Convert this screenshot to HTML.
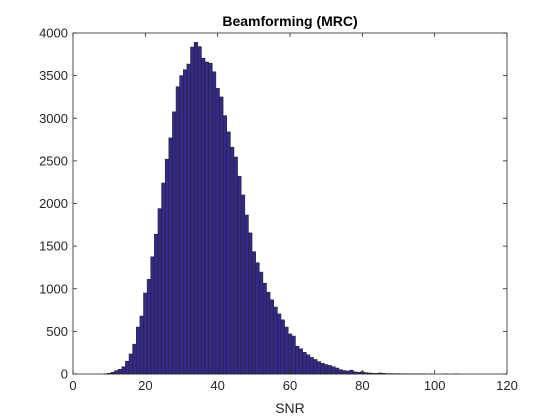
<!DOCTYPE html>
<html><head><meta charset="utf-8"><style>
html,body{margin:0;padding:0;background:#fff;}
svg{display:block;font-family:"Liberation Sans",Arial,sans-serif;}
</style></head><body>
<svg id="chart" width="560" height="420" viewBox="0 0 560 420"></svg>
<script>
const binStart = 8.5;
const binWidth = 1;
const counts = [3,8,20,40,55,85,150,235,350,550,680,950,1110,1375,1640,1940,2240,2520,2770,3075,3370,3500,3570,3635,3835,3890,3840,3705,3660,3645,3545,3350,3250,3030,2840,2660,2545,2320,2100,1865,1655,1435,1305,1195,1065,960,870,785,705,635,550,470,445,325,295,255,225,195,170,145,125,110,100,85,70,50,40,35,45,25,20,27,16,12,8,8,12,8,4,5,3,4,2,3,2,1,2,1,1,0,1,0,0,0,1,0,0,1];
const xTicks = [0,20,40,60,80,100,120];
const yTicks = [0,500,1000,1500,2000,2500,3000,3500,4000];
const L=73,R=507,T=33,B=374;
const xS=v=>L+(v-0)/120*(R-L);
const yS=v=>B-v/4000*(B-T);
const svg=document.getElementById('chart');
const NS='http://www.w3.org/2000/svg';
function mk(t,a,p){const e=document.createElementNS(NS,t);for(const k in a)e.setAttribute(k,a[k]);(p||svg).appendChild(e);return e;}
const bg=mk('rect',{x:L,y:T,width:R-L,height:B-T,fill:'#fff'});


const g=mk('g',{});


counts.forEach((c,i)=>{
  if(c<=0)return;
  const x0=xS(binStart+i*binWidth),x1=xS(binStart+(i+1)*binWidth);
  const r=mk('rect',{x:x0,y:yS(c),width:x1-x0,height:B-yS(c),fill:'#33298a',stroke:'#262626','stroke-width':0.6},g);
  
  
});
const ax=mk('g',{});


mk('rect',{x:L,y:T,width:R-L,height:B-T,fill:'none',stroke:'#262626','stroke-width':0.8},ax);
xTicks.forEach(v=>{
  const x=xS(v);
  mk('line',{x1:x,y1:B,x2:x,y2:B-4,stroke:'#262626','stroke-width':0.8},ax);
  mk('line',{x1:x,y1:T,x2:x,y2:T+4,stroke:'#262626','stroke-width':0.8},ax);
  const t=mk('text',{x:x,y:B+16,'font-size':13,'text-anchor':'middle',fill:'#262626'},ax);
  t.textContent=v;
  
  
});
yTicks.forEach(v=>{
  const y=yS(v);
  mk('line',{x1:L,y1:y,x2:L+4,y2:y,stroke:'#262626','stroke-width':0.8},ax);
  mk('line',{x1:R,y1:y,x2:R-4,y2:y,stroke:'#262626','stroke-width':0.8},ax);
  const t=mk('text',{x:L-5,y:y+4.5,'font-size':13,'text-anchor':'end',fill:'#262626'},ax);
  t.textContent=v;
  
  
});
const title=mk('text',{x:(L+R)/2,y:26,'font-size':14,'font-weight':'bold','text-anchor':'middle',fill:'#000'});
title.textContent='Beamforming (MRC)';


const xl=mk('text',{x:(L+R)/2,y:413,'font-size':14,'text-anchor':'middle',fill:'#262626'});
xl.textContent='SNR';


</script>
</body></html>
